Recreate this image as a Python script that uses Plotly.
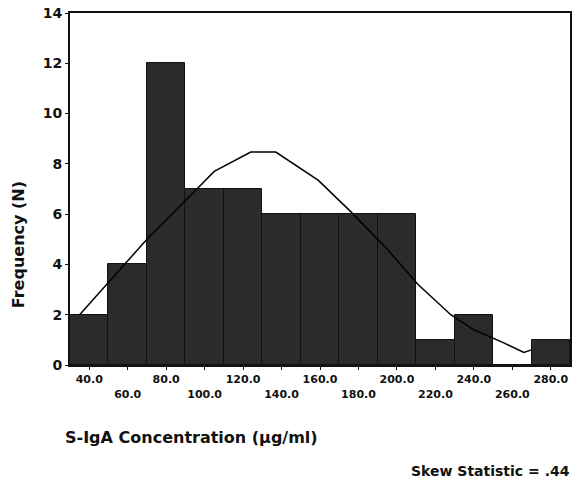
import plotly.graph_objects as go

# histogram bins (bin centres, ug/ml) and counts
bin_centres = [40, 60, 80, 100, 120, 140, 160, 180, 200, 220, 240, 260, 280]
counts = [2, 4, 12, 7, 7, 6, 6, 6, 6, 1, 2, 0, 1]

# fitted normal curve
curve_x = [35, 50, 70, 96, 105, 124, 137, 159, 176, 195, 211, 228, 240, 255, 266, 270]
curve_y = [2.0, 3.3, 5.0, 7.0, 7.7, 8.47, 8.47, 7.35, 6.1, 4.6, 3.2, 2.0, 1.4, 0.9, 0.5, 0.6]

y_ticks = [0, 2, 4, 6, 8, 10, 12, 14]
tick_text = [("%.1f" % v) if i % 2 == 0 else "<br>%.1f" % v for i, v in enumerate(bin_centres)]

font = "DejaVu Sans"

fig = go.Figure()
fig.add_trace(go.Bar(
    x=bin_centres,
    y=counts,
    width=20,
    marker=dict(color="#2b2b2b", line=dict(color="#111111", width=1)),
    showlegend=False
))
fig.add_trace(go.Scatter(
    x=curve_x,
    y=curve_y,
    mode="lines",
    line=dict(color="black", width=1.5),
    showlegend=False
))

fig.update_layout(
    width=577,
    height=488,
    margin=dict(l=70, r=5, t=13, b=123),
    plot_bgcolor="white",
    paper_bgcolor="white",
    bargap=0,
    font=dict(family=font, size=11, color="#111"),
    xaxis=dict(
        range=[30, 290],
        tickvals=bin_centres,
        ticktext=tick_text,
        ticks="outside",
        ticklen=3,
        tickcolor="#111",
        showgrid=False,
        zeroline=False,
        showline=True,
        linecolor="#111",
        linewidth=2,
        mirror=True,
        tickfont=dict(family=font, size=11, color="#111", weight="bold")
    ),
    yaxis=dict(
        range=[0, 14],
        tickvals=y_ticks,
        ticks="outside",
        ticklen=3,
        tickcolor="#111",
        showgrid=False,
        zeroline=False,
        showline=True,
        linecolor="#111",
        linewidth=2,
        mirror=True,
        tickfont=dict(family=font, size=14, color="#111", weight="bold")
    ),
    annotations=[
        dict(text="Frequency (N)", x=18, y=245, xanchor="center", yanchor="middle",
             showarrow=False, textangle=-90,
             font=dict(family=font, size=16, color="#111", weight="bold")),
        dict(text="S-IgA Concentration (µg/ml)", x=63, y=437, xanchor="left", yanchor="middle",
             showarrow=False,
             font=dict(family=font, size=16, color="#111", weight="bold")),
        dict(text="Skew Statistic = .44", x=574, y=471, xanchor="right", yanchor="middle",
             showarrow=False,
             font=dict(family=font, size=14, color="#111", weight="bold")),
    ]
)

# place annotations in pixel space
for a in fig.layout.annotations:
    a.xref = "paper"
    a.yref = "paper"
    a.x = (a.x - 70) / (577 - 70 - 5)
    a.y = (488 - 123 - a.y) / (488 - 13 - 123)

fig.write_html("out.html", config={"displayModeBar": False},
               post_script="document.body.style.margin='0';")
